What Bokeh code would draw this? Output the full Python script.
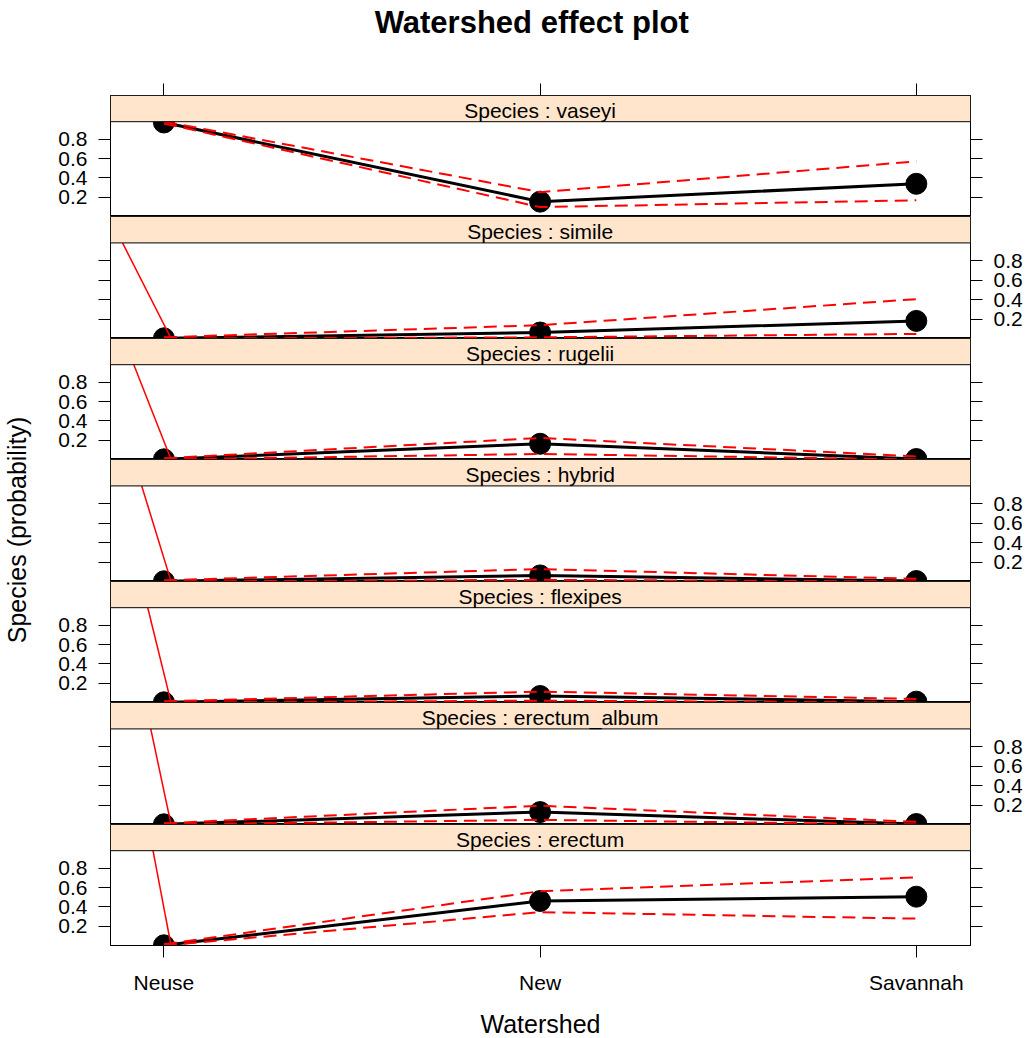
from bokeh.plotting import figure
from bokeh.layouts import column, row
from bokeh.models import Range1d, FixedTicker, LinearAxis, BoxAnnotation, Label
from bokeh.embed import file_html
from bokeh.resources import INLINE

# ---------------- data ----------------
watersheds = ["Neuse", "New", "Savannah"]
species = ["vaseyi", "simile", "rugelii", "hybrid", "flexipes", "erectum_album", "erectum"]

# fitted probabilities (one value per species, top panel first)
fit_neuse = [0.972, 0.005, 0.005, 0.005, 0.005, 0.005, 0.005]
fit_new = [0.156, 0.064, 0.165, 0.065, 0.070, 0.130, 0.462]
fit_savannah = [0.340, 0.183, 0.008, 0.008, 0.012, 0.008, 0.506]

# lower confidence limits
lower_neuse = [0.962, 0.003, 0.003, 0.003, 0.003, 0.003, 0.003]
lower_new = [0.100, 0.015, 0.060, 0.020, 0.022, 0.050, 0.347]
lower_savannah = [0.170, 0.050, 0.003, 0.003, 0.004, 0.003, 0.280]

# upper confidence limits
upper_neuse = [0.982, 0.015, 0.015, 0.015, 0.015, 0.015, 0.015]
upper_new = [0.254, 0.139, 0.225, 0.130, 0.115, 0.195, 0.563]
upper_savannah = [0.571, 0.405, 0.035, 0.030, 0.040, 0.030, 0.705]

# stray red segment seen at the Neuse end of every panel except the first
artifact_top_x = [None, 0.890, 0.920, 0.941, 0.957, 0.965, 0.971]
artifact_end_x = [1.019] * 7

ytick_values = [0.2, 0.4, 0.6, 0.8]

# ---------------- layout / style constants ----------------
FONT = "Liberation Sans"
X_START, X_END = 0.858, 3.144
Y_START, Y_PLOT_TOP, Y_END = 0.003, 0.98, 1.25
FRAME_W = 860
FRAME_HS = [121, 122, 121, 122, 121, 122, 121]
STRIP_COLOR = "#FFE5CC"
YLAB_W = 46
TOTAL_W = 1026
TOTAL_H = 1038
HEADER_H = 70

x_pos = list(range(1, len(watersheds) + 1))
x_labels = {i + 1: w for i, w in enumerate(watersheds)}


def y_axis(show_labels):
    ax = LinearAxis(
        ticker=FixedTicker(ticks=ytick_values),
        bounds=(Y_START, Y_PLOT_TOP),
        major_tick_out=12, major_tick_in=0,
        minor_tick_line_color=None,
        axis_line_color="black",
        major_label_text_font=FONT,
        major_label_text_font_size="21px",
        major_label_text_color="black",
        major_label_standoff=11,
    )
    if not show_labels:
        ax.major_label_overrides = {t: "" for t in ytick_values}
    return ax


def x_axis(show_labels, label=None):
    ax = LinearAxis(
        ticker=FixedTicker(ticks=x_pos),
        major_tick_out=12, major_tick_in=0,
        minor_tick_line_color=None,
        axis_line_color="black",
        major_label_text_font=FONT,
        major_label_text_font_size="21px",
        major_label_text_color="black",
        major_label_standoff=13,
    )
    if show_labels:
        ax.major_label_overrides = dict(x_labels)
    else:
        ax.major_label_overrides = {t: "" for t in x_pos}
        ax.major_label_standoff = 0
    if label:
        ax.axis_label = label
        ax.axis_label_text_font = FONT
        ax.axis_label_text_font_size = "25px"
        ax.axis_label_text_font_style = "normal"
        ax.axis_label_text_color = "black"
        ax.axis_label_standoff = 13
    return ax


# y-axis title drawn in its own narrow strip so it can span all panels
ylab = figure(
    width=YLAB_W, height=TOTAL_H,
    title="Species (probability)", title_location="left",
    x_axis_location=None, y_axis_location=None,
    output_backend="svg", toolbar_location=None,
    min_border_left=0, min_border_right=0, min_border_top=21, min_border_bottom=0,
    outline_line_color=None, background_fill_color="white", border_fill_color="white",
)
ylab.grid.visible = False
ylab.title.text_font = FONT
ylab.title.text_font_size = "25px"
ylab.title.text_font_style = "normal"
ylab.title.text_color = "black"
ylab.title.align = "center"
ylab.title.standoff = 0

# header carrying the main title
header = figure(
    width=TOTAL_W - YLAB_W, height=HEADER_H,
    x_range=Range1d(0, TOTAL_W - YLAB_W), y_range=Range1d(0, HEADER_H),
    x_axis_location=None, y_axis_location=None,
    output_backend="svg", toolbar_location=None,
    min_border=0, outline_line_color=None,
    background_fill_color="white", border_fill_color="white",
)
header.grid.visible = False
header.add_layout(Label(x=526 - YLAB_W, y=HEADER_H - 22, text="Watershed effect plot",
                        text_align="center", text_baseline="middle",
                        text_font=FONT, text_font_size="31px", text_font_style="bold",
                        text_color="black"))

figs = [header]
n = len(species)
for i, sp in enumerate(species):
    first = i == 0
    last = i == n - 1
    fit = [fit_neuse[i], fit_new[i], fit_savannah[i]]
    lower = [lower_neuse[i], lower_new[i], lower_savannah[i]]
    upper = [upper_neuse[i], upper_new[i], upper_savannah[i]]

    p = figure(
        frame_width=FRAME_W, frame_height=FRAME_HS[i],
        x_range=Range1d(X_START, X_END), y_range=Range1d(Y_START, Y_END),
        x_axis_location=None, y_axis_location=None,
        output_backend="svg", toolbar_location=None,
        min_border_left=110 - YLAB_W, min_border_right=56,
        min_border_top=95 - HEADER_H if first else 0,
        min_border_bottom=93 if last else 0,
        background_fill_color="white", border_fill_color="white",
        outline_line_color="black", outline_line_width=1,
    )
    p.grid.visible = False

    left_labels = (i % 2 == 0)
    p.add_layout(y_axis(left_labels), "left")
    p.add_layout(y_axis(not left_labels), "right")
    if first:
        p.add_layout(x_axis(False), "above")
    if last:
        p.add_layout(x_axis(True, "Watershed"), "below")

    p.line(x_pos, fit, line_color="black", line_width=3)
    p.scatter(x_pos, fit, size=21, color="black")
    p.line(x_pos, lower, line_color="red", line_width=2, line_dash="13 7")
    p.line(x_pos, upper, line_color="red", line_width=2, line_dash="13 7")
    if artifact_top_x[i] is not None:
        p.line([artifact_top_x[i], artifact_end_x[i]], [Y_PLOT_TOP, lower[0]],
               line_color="red", line_width=1.5)

    p.add_layout(BoxAnnotation(bottom=Y_PLOT_TOP, fill_color=STRIP_COLOR, fill_alpha=1,
                               line_color="black", line_width=1, line_alpha=1))
    p.add_layout(Label(x=2, y=(Y_PLOT_TOP + Y_END) / 2 - 0.02, text=f"Species : {sp}",
                       text_align="center", text_baseline="middle",
                       text_font=FONT, text_font_size="21px", text_color="black"))
    figs.append(p)

layout = row(ylab, column(*figs, spacing=0), spacing=0)
open("out.html", "w").write(file_html(layout, INLINE))
